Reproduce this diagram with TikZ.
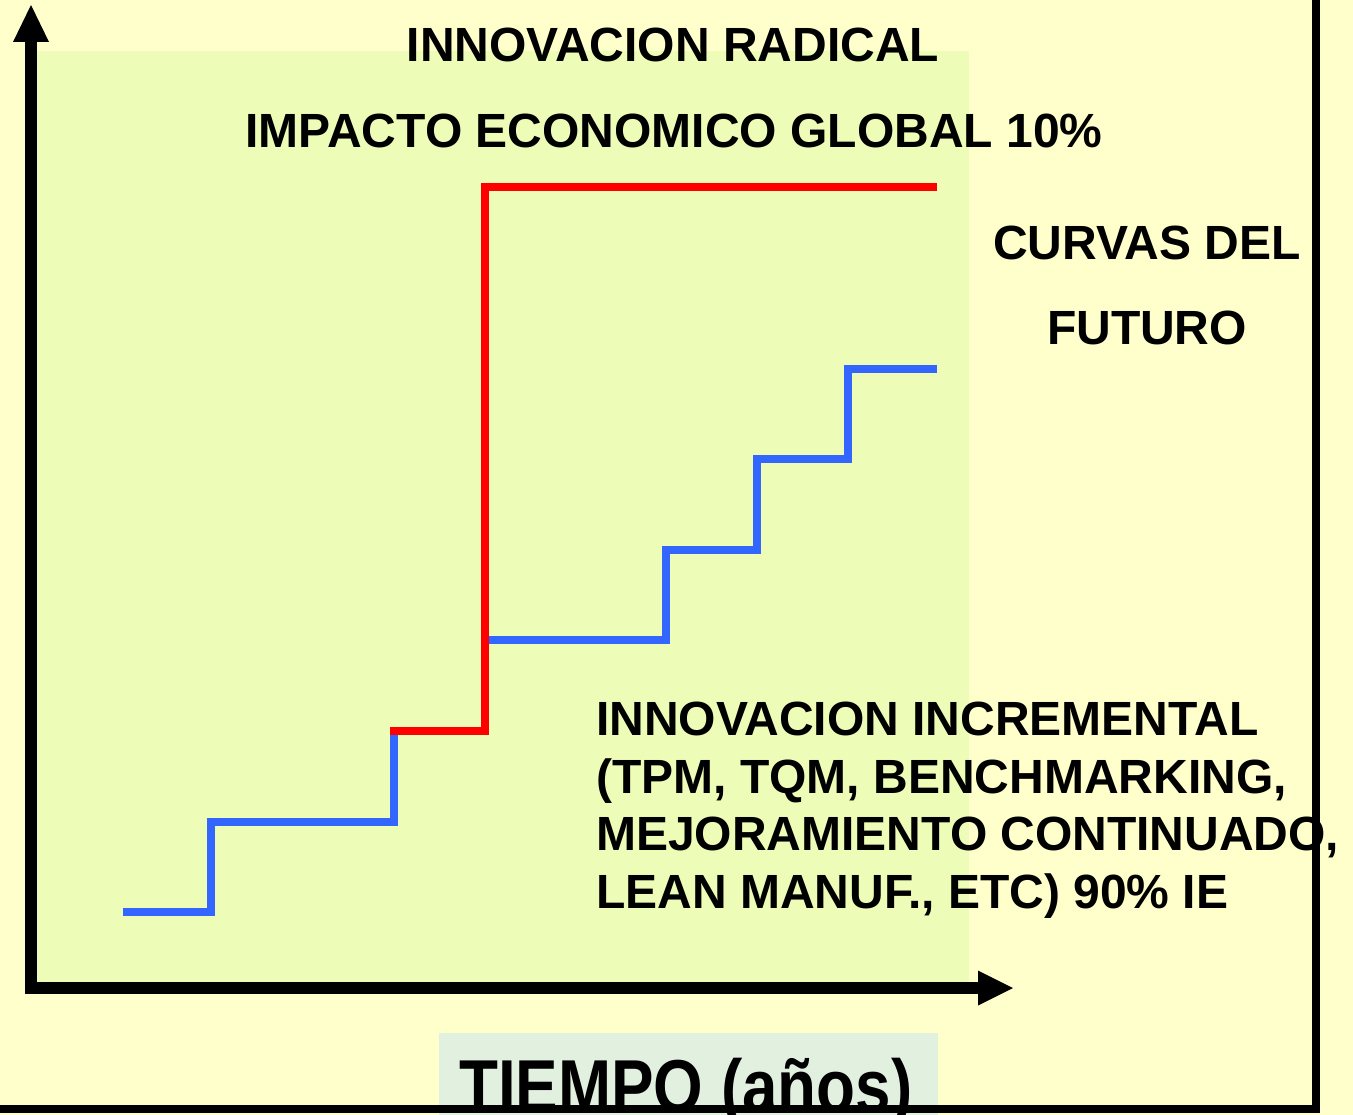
\documentclass[tikz,border=0pt]{standalone}
\usepackage{fontspec}
\setmainfont{Liberation Sans}
\definecolor{bgyellow}{HTML}{FFFFCC}
\definecolor{plotgreen}{HTML}{EDFDB8}
\definecolor{tiempobox}{HTML}{E2F0E0}
\definecolor{stepblue}{HTML}{3366FF}
\definecolor{stepred}{HTML}{FF0000}
\tikzset{
  bigtext/.style={font=\bfseries\fontsize{48}{57.5}\selectfont, inner sep=0pt},
  blueline/.style={draw=stepblue, line width=7.5pt, line join=miter},
  redline/.style={draw=stepred, line width=8pt, line join=miter},
  axisline/.style={draw=black, line width=12pt},
  border/.style={draw=black, line width=8pt}
}
\begin{document}
\begin{tikzpicture}[x=1pt,y=-1pt]
\useasboundingbox (0,0) rectangle (1353,1115);
\fill[bgyellow] (0,0) rectangle (1353,1115);
% plot area
\fill[plotgreen] (35,51) rectangle (969,985);
% tiempo box
\fill[tiempobox] (439,1033) rectangle (938,1115);
% axes
\coordinate (origin) at (31,988);
\coordinate (ytop) at (31,42);
\coordinate (xend) at (978,988);
\draw[axisline] (31,994) -- (ytop);
\draw[axisline] (25,988) -- (xend);
\fill[black] (13,42) -- (31,5) -- (49,42) -- cycle;
\fill[black] (978,970.5) -- (1013,988) -- (978,1005.5) -- cycle;
% steps
\coordinate (b1) at (123,912);
\coordinate (b2) at (211,912);
\coordinate (b3) at (211,822);
\coordinate (b4) at (394,822);
\coordinate (b5) at (394,735);
\draw[blueline] (b1) -- (b2) -- (b3) -- (b4) -- (b5);
\coordinate (r1) at (390,731);
\coordinate (r2) at (485,731);
\coordinate (r3) at (485,187);
\coordinate (r4) at (937,187);
\draw[redline] (r1) -- (r2) -- (r3) -- (r4);
\coordinate (c1) at (489,640);
\coordinate (c2) at (666,640);
\coordinate (c3) at (666,550);
\coordinate (c4) at (757,550);
\coordinate (c5) at (757,459);
\coordinate (c6) at (848,459);
\coordinate (c7) at (848,369);
\coordinate (c8) at (937,369);
\draw[blueline] (c1) -- (c2) -- (c3) -- (c4) -- (c5) -- (c6) -- (c7) -- (c8);
% texts
\node[bigtext, anchor=base] (radical) at (673,62) {INNOVACION RADICAL};
\node[bigtext, anchor=base] (impacto) at (674,148) {IMPACTO ECONOMICO GLOBAL 10\%};
\node[bigtext, anchor=base] (curvas) at (1147,260) {CURVAS DEL};
\node[bigtext, anchor=base] (futuro) at (1147,345) {FUTURO};
\node[bigtext, anchor=base west] (inc1) at (596,735) {INNOVACION INCREMENTAL};
\node[bigtext, anchor=base west] (inc2) at (596,793) {(TPM, TQM, BENCHMARKING,};
\node[bigtext, anchor=base west] (inc3) at (596,850) {MEJORAMIENTO CONTINUADO,};
\node[bigtext, anchor=base west] (inc4) at (596,908) {LEAN MANUF., ETC) 90\% IE};
\node[font=\bfseries\fontsize{75}{80}\selectfont, inner sep=0pt, anchor=base west, xscale=0.85] (tiempo) at (459,1112) {TIEMPO (años)};
% border
\draw[border] (0,1109) -- (1316,1109) -- (1316,0);
\end{tikzpicture}
\end{document}
